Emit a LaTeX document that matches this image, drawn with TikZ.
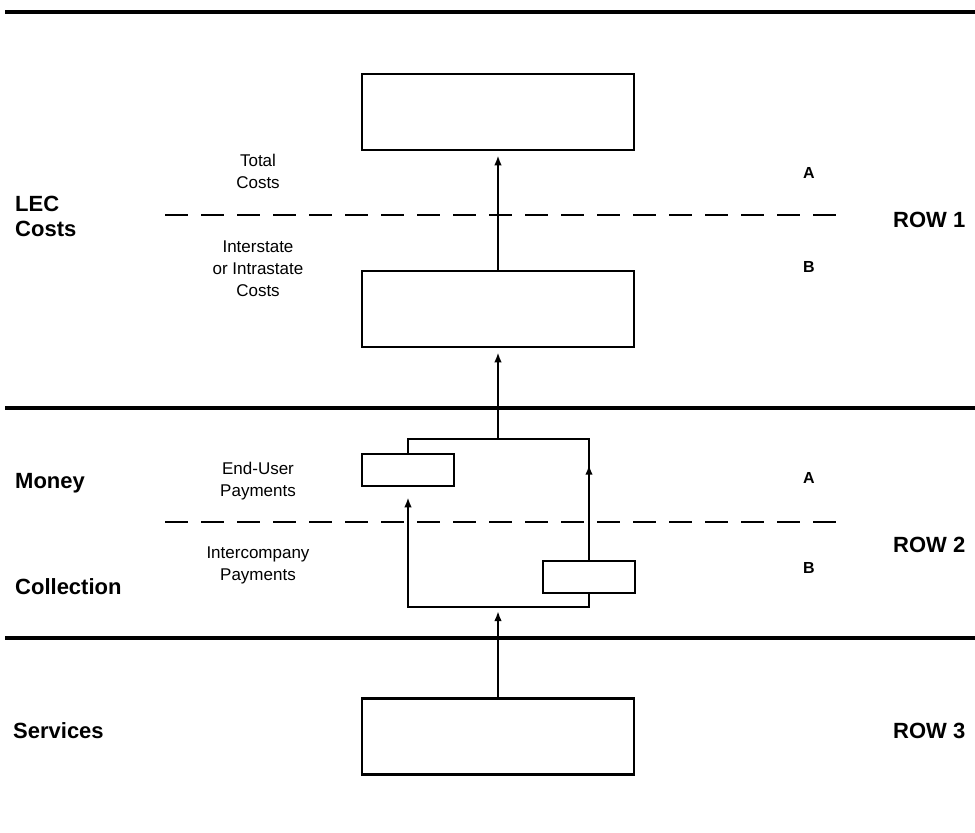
\documentclass[tikz,border=0pt]{standalone}
\usepackage{fontspec}
\setmainfont{Liberation Sans}
\usepackage{tikz}
\usetikzlibrary{arrows.meta, positioning, calc, decorations.markings}

\begin{document}
\begin{tikzpicture}[
  x=1pt,
  y=-1pt,
  box/.style={rectangle, draw, line width=2.6pt, minimum width=272pt, minimum height=76pt, inner sep=0pt},
  smallbox/.style={rectangle, draw, line width=2.6pt, minimum width=92pt, minimum height=32pt, inner sep=0pt},
  rowname/.style={anchor=west, align=left, inner sep=0pt, font={\fontsize{22}{25}\selectfont\bfseries}},
  sublab/.style={inner sep=0pt, font={\fontsize{16}{16}\selectfont\bfseries}},
  note/.style={align=center, inner sep=0pt, font={\fontsize{17}{22}\selectfont}},
  band/.style={line width=3.2pt},
  split/.style={line width=1.6pt, dash pattern=on 23pt off 13pt},
  flow/.style={-{Latex[length=10pt,width=7.5pt]}, line width=2.2pt, shorten >=4pt},
  wire/.style={line width=2.2pt},
  midflow/.style={line width=2.2pt, postaction={decorate},
    decoration={markings, mark=at position 95pt with {\arrow{Latex[length=10pt,width=7.5pt]}}}}
]
\useasboundingbox (0,0) rectangle (975,833);

% Row borders
\draw[band] (5,12) -- (975,12);
\draw[band] (5,408) -- (975,408);
\draw[band] (5,638) -- (975,638);

% A / B splits
\draw[split] (165,215) -- (840,215);
\draw[split] (165,522) -- (840,522);

% Row names
\node[rowname] (lec) at (15,216) {LEC\\Costs};
\node[rowname] (money) at (15,483) {Money};
\node[rowname] (coll) at (15,587) {Collection};
\node[rowname] (serv) at (13,731) {Services};
\node[rowname] (row1) at (893,220) {ROW 1};
\node[rowname] (row2) at (893,545) {ROW 2};
\node[rowname] (row3) at (893,731) {ROW 3};

% A / B marks
\node[sublab] (a1) at (809,173) {A};
\node[sublab] (b1) at (809,267) {B};
\node[sublab] (a2) at (809,478) {A};
\node[sublab] (b2) at (809,568) {B};

% Notes
\node[note] (total) at (258,171) {Total\\Costs};
\node[note] (inter) at (258,269) {Interstate\\or Intrastate\\Costs};
\node[note] (enduser) at (258,481) {End-User\\Payments};
\node[note] (intercomp) at (258,565) {Intercompany\\Payments};

% Boxes
\node[box] (tot) at (498,112) {};
\node[box] (juris) at (498,309) {};
\node[box] (svc) at (498,736.5) {};
\node[smallbox] (eu) at (408,470) {};
\node[smallbox] (ic) at (589,577) {};

% Junctions
\coordinate (jb) at (498,607);
\coordinate (jt) at (498,439);

% Connectors
\draw[flow] (svc.north) -- (jb);
\draw[flow, shorten >=10pt] (jb) -| (eu.south);
\draw[wire] (jb) -| (ic.south);
\draw[wire] (eu.north) |- (jt);
\draw[midflow] (ic.north) |- (jt);
\draw[flow] (jt) -- (juris.south);
\draw[flow] (juris.north) -- (tot.south);

\end{tikzpicture}
\end{document}
